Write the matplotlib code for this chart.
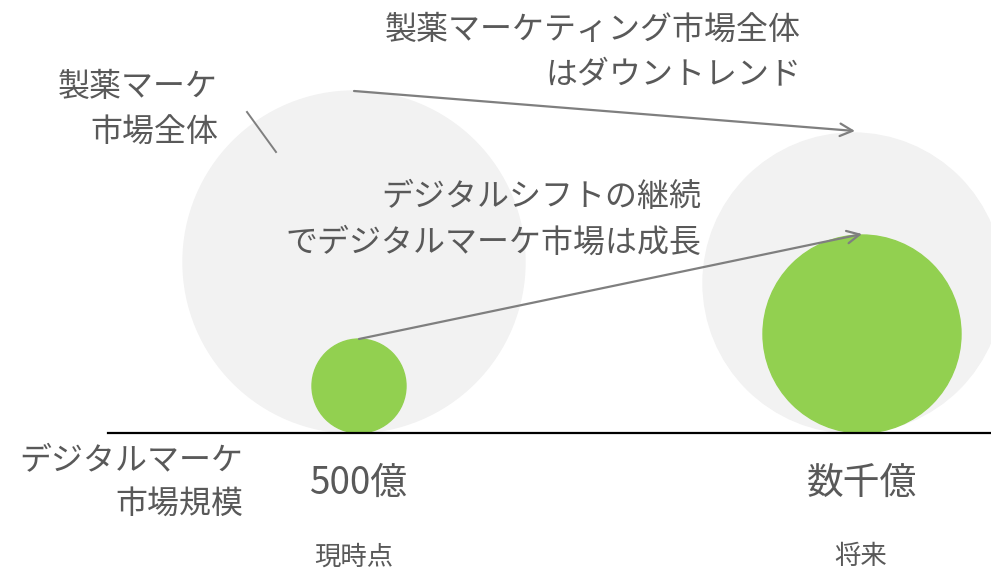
import matplotlib.pyplot as plt
from matplotlib.patches import Circle

plt.rcParams['font.family'] = ['Noto Sans CJK JP', 'DejaVu Sans']

# market size per period (circle radii in canvas units)
periods = ['現時点', '将来']
size_labels = ['500億', '数千億']
total_market_r = [171, 150]
digital_market_r = [47, 99]

TEXT = '#595959'
LINE = '#7F7F7F'
GREY = '#F2F2F2'
GREEN = '#92D050'

fig = plt.figure(figsize=(9.91, 5.73), dpi=100)
ax = fig.add_axes([0, 0, 1, 1])
ax.set_xlim(0, 991)
ax.set_ylim(573, 0)
ax.set_aspect('equal')
ax.axis('off')

base_y = 433
total_x = [354, 853]
digital_x = [359, 862]
period_x = [354, 861]

# circles sit on the baseline
for x, r in zip(total_x, total_market_r):
    ax.add_patch(Circle((x, base_y - r), r, color=GREY, zorder=1))
for x, r in zip(digital_x, digital_market_r):
    ax.add_patch(Circle((x, base_y - r), r, color=GREEN, zorder=2))

ax.plot([108, 991], [base_y, base_y], color='black', lw=1.6, zorder=3)

# trend arrows from circle tops
arrow = dict(arrowstyle='->,head_length=0.9,head_width=0.45', color=LINE, lw=1.6,
             shrinkA=0, shrinkB=0)
ax.annotate('', xy=(total_x[1] + 2, base_y - 2 * total_market_r[1] - 2),
            xytext=(total_x[0], base_y - 2 * total_market_r[0]), arrowprops=arrow, zorder=4)
ax.annotate('', xy=(digital_x[1], base_y - 2 * digital_market_r[1] - 1),
            xytext=(digital_x[0], base_y - 2 * digital_market_r[0]), arrowprops=arrow, zorder=4)

# leader line for the total market label
ax.plot([247, 276], [112, 152], color=LINE, lw=1.4, zorder=4)

fs = 23
ax.text(801, 30, '製薬マーケティング市場全体', ha='right', va='center', fontsize=fs, color=TEXT)
ax.text(801, 75, 'はダウントレンド', ha='right', va='center', fontsize=fs, color=TEXT)
ax.text(218, 87, '製薬マーケ', ha='right', va='center', fontsize=fs, color=TEXT)
ax.text(218, 133, '市場全体', ha='right', va='center', fontsize=fs, color=TEXT)
ax.text(701, 197, 'デジタルシフトの継続', ha='right', va='center', fontsize=fs, color=TEXT, zorder=5)
ax.text(701, 243, 'でデジタルマーケ市場は成長', ha='right', va='center', fontsize=fs, color=TEXT, zorder=5)
ax.text(243, 461, 'デジタルマーケ', ha='right', va='center', fontsize=fs, color=TEXT)
ax.text(243, 504, '市場規模', ha='right', va='center', fontsize=fs, color=TEXT)

for x, px, label, period in zip(digital_x, period_x, size_labels, periods):
    ax.text(x, 483, label, ha='center', va='center', fontsize=26.5, color=TEXT)
    ax.text(px, 557, period, ha='center', va='center', fontsize=19, color=TEXT)

fig.savefig('out.png', dpi=100)
